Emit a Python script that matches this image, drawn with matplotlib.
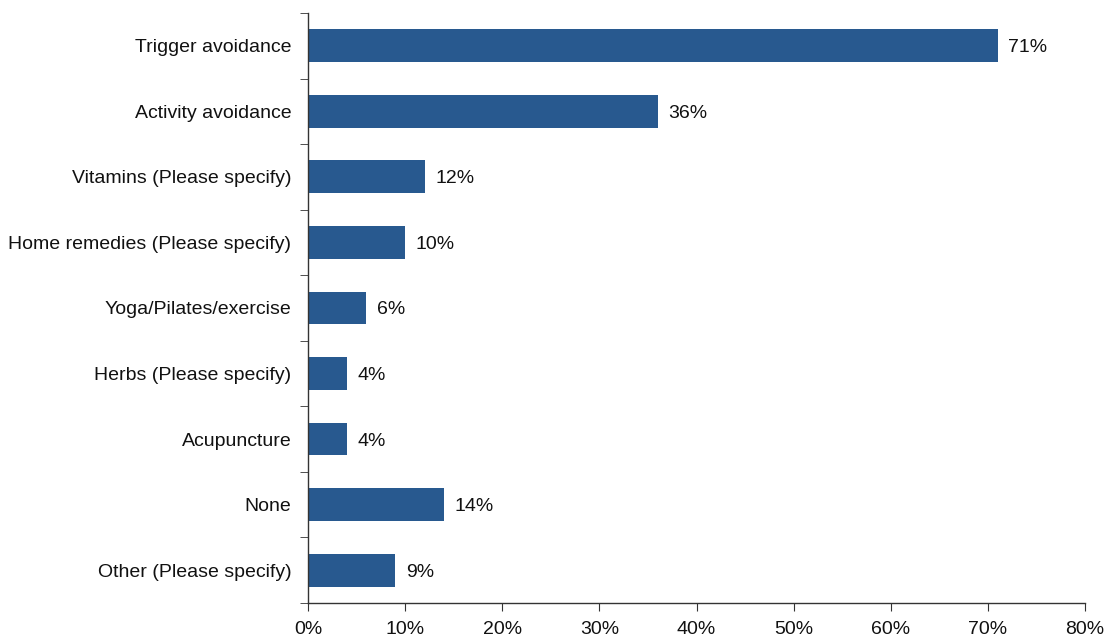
import numpy as np
import matplotlib.pyplot as plt
from matplotlib.ticker import FixedLocator, PercentFormatter

plt.rcParams['font.family'] = ['Liberation Sans', 'DejaVu Sans']

categories = ["Trigger avoidance", "Activity avoidance", "Vitamins (Please specify)",
              "Home remedies (Please specify)", "Yoga/Pilates/exercise",
              "Herbs (Please specify)", "Acupuncture", "None", "Other (Please specify)"]
values = [71, 36, 12, 10, 6, 4, 4, 14, 9]

fig = plt.figure(figsize=(11.06, 6.37), dpi=100)
ax = fig.add_axes([0.2785, 0.0534, 0.7025, 0.9262])

y = np.arange(len(categories))
ax.barh(y, values, height=0.5, color='#28598f')
for yi, v in zip(y, values):
    ax.text(v + 1.1, yi, f"{v}%", va='center_baseline', ha='left', fontsize=14, color='#111111')

ax.set_ylim(len(categories) - 0.5, -0.5)
ax.set_xlim(0, 80)
ax.set_yticks(y)
ax.set_yticklabels(categories, fontsize=14, color='#111111')
ax.yaxis.set_minor_locator(FixedLocator(np.arange(-0.5, len(categories), 1)))
ax.tick_params(axis='y', which='major', length=0, pad=12)
ax.tick_params(axis='y', which='minor', length=6, direction='out', color='#333333')
ax.set_xticks(np.arange(0, 81, 10))
ax.xaxis.set_major_formatter(PercentFormatter(decimals=0))
ax.tick_params(axis='x', length=6, direction='out', labelsize=14, labelcolor='#111111',
               color='#333333', pad=7)

for s in ['top', 'right']:
    ax.spines[s].set_visible(False)
for s in ['left', 'bottom']:
    ax.spines[s].set_color('#333333')
    ax.spines[s].set_linewidth(1.0)

fig.savefig('out.png', dpi=100)
